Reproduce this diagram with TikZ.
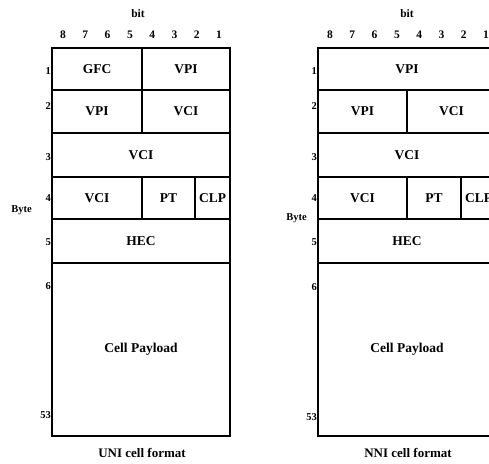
\documentclass[tikz,border=0pt]{standalone}
\usepackage{fontspec}
\setmainfont{Liberation Serif}
\usetikzlibrary{positioning}

\begin{document}
\begin{tikzpicture}[
    x=1pt, y=-1pt,
    field/.style={rectangle, draw, line width=1.1pt, inner sep=0pt, outer sep=0pt, anchor=north west, text centered, font=\fontsize{13.5}{15}\selectfont\bfseries},
    bitnum/.style={inner sep=0pt, font=\fontsize{11.5}{13}\selectfont\bfseries},
    bytenum/.style={inner sep=0pt, anchor=east, font=\fontsize{10.5}{12}\selectfont\bfseries},
    caption/.style={inner sep=0pt, font=\fontsize{13}{15}\selectfont\bfseries}
]
\useasboundingbox (0,0) rectangle (489,463);
\clip (0,0) rectangle (489,463);

% UNI cell
\node (uniGfc) [field, minimum width=90pt, minimum height=42pt] at (52,48) {GFC};
\node (uniVpiA) [field, minimum width=88pt, minimum height=42pt, anchor=west, right=0pt of uniGfc] {VPI};
\node (uniVpiB) [field, minimum width=90pt, minimum height=43pt] at (52,90) {VPI};
\node (uniVciA) [field, minimum width=88pt, minimum height=43pt, anchor=west, right=0pt of uniVpiB] {VCI};
\node (uniVciB) [field, minimum width=178pt, minimum height=44pt] at (52,133) {VCI};
\node (uniVciC) [field, minimum width=90pt, minimum height=42pt] at (52,177) {VCI};
\node (uniPt) [field, minimum width=53pt, minimum height=42pt, anchor=west, right=0pt of uniVciC] {PT};
\node (uniClp) [field, minimum width=35pt, minimum height=42pt, anchor=west, right=0pt of uniPt] {CLP};
\node (uniHec) [field, minimum width=178pt, minimum height=44pt] at (52,219) {HEC};
\node (uniLoad) [field, minimum width=178pt, minimum height=173pt] at (52,263) {Cell Payload};

\node (uniBit) [bitnum] at (138,14) {bit};
\foreach \b [count=\i] in {8,7,6,5,4,3,2,1}
  \node (uniBit\b) [bitnum] at ({63+22.3*(\i-1)},35) {\b};
\node (uniByte1) [bytenum] at (51,71) {1};
\node (uniByte2) [bytenum] at (51,106) {2};
\node (uniByte3) [bytenum] at (51,157) {3};
\node (uniByte4) [bytenum] at (51,198) {4};
\node (uniByte5) [bytenum] at (51,242) {5};
\node (uniByte6) [bytenum] at (51,286) {6};
\node (uniByte53) [bytenum] at (51,415) {53};
\node (uniByte) [bytenum] at (32,210) {Byte};
\node (uniName) [caption] at (142,453) {UNI cell format};

% NNI cell
\node (nniVpiA) [field, minimum width=178pt, minimum height=42pt] at (318,48) {VPI};
\node (nniVpiB) [field, minimum width=89pt, minimum height=43pt] at (318,90) {VPI};
\node (nniVciA) [field, minimum width=89pt, minimum height=43pt, anchor=west, right=0pt of nniVpiB] {VCI};
\node (nniVciB) [field, minimum width=178pt, minimum height=44pt] at (318,133) {VCI};
\node (nniVciC) [field, minimum width=89pt, minimum height=42pt] at (318,177) {VCI};
\node (nniPt) [field, minimum width=54pt, minimum height=42pt, anchor=west, right=0pt of nniVciC] {PT};
\node (nniClp) [field, minimum width=35pt, minimum height=42pt, anchor=west, right=0pt of nniPt] {CLP};
\node (nniHec) [field, minimum width=178pt, minimum height=44pt] at (318,219) {HEC};
\node (nniLoad) [field, minimum width=178pt, minimum height=173pt] at (318,263) {Cell Payload};

\node (nniBit) [bitnum] at (407,14) {bit};
\foreach \b [count=\i] in {8,7,6,5,4,3,2,1}
  \node (nniBit\b) [bitnum] at ({330+22.3*(\i-1)},35) {\b};
\node (nniByte1) [bytenum] at (317,71) {1};
\node (nniByte2) [bytenum] at (317,106) {2};
\node (nniByte3) [bytenum] at (317,157) {3};
\node (nniByte4) [bytenum] at (317,198) {4};
\node (nniByte5) [bytenum] at (317,242) {5};
\node (nniByte6) [bytenum] at (317,287) {6};
\node (nniByte53) [bytenum] at (317,417) {53};
\node (nniByte) [bytenum] at (307,218) {Byte};
\node (nniName) [caption] at (408,453) {NNI cell format};

\end{tikzpicture}
\end{document}
